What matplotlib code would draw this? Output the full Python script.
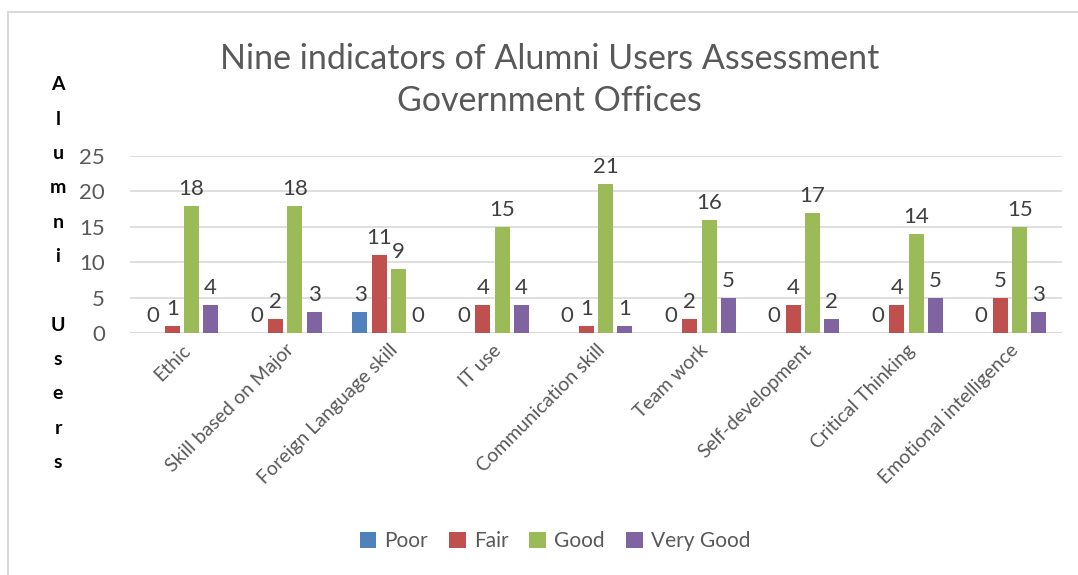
import numpy as np
import matplotlib.pyplot as plt
from matplotlib.patches import Rectangle

plt.rcParams['font.family'] = ['Lato', 'DejaVu Sans']

categories = ["Ethic", "Skill based on Major", "Foreign Language skill", "IT use",
              "Communication skill", "Team work", "Self-development",
              "Critical Thinking", "Emotional intelligence"]
poor = [0, 0, 3, 0, 0, 0, 0, 0, 0]
fair = [1, 2, 11, 4, 1, 2, 4, 4, 5]
good = [18, 18, 9, 15, 21, 16, 17, 14, 15]
very_good = [4, 3, 0, 4, 1, 5, 2, 5, 3]

series = [("Poor", poor, "#4F81BD"), ("Fair", fair, "#C0504D"),
          ("Good", good, "#9BBB59"), ("Very Good", very_good, "#8064A2")]

fig = plt.figure(figsize=(10.78, 5.75), dpi=100)
ax = fig.add_axes([0.1206, 0.4209, 0.8644, 0.3078])

# chart frame
fig.patches.append(Rectangle((8 / 1078, -0.01), 1.1, 1 - 12 / 575 + 0.01,
                             transform=fig.transFigure, fill=False,
                             edgecolor="#D9D9D9", lw=1.5))

x = np.arange(len(categories))
step, width = 0.186, 0.145
for i, (name, vals, col) in enumerate(series):
    pos = x + (i - 1.5) * step
    bars = ax.bar(pos, vals, width, color=col, label=name, zorder=3)
    for b, v in zip(bars, vals):
        ax.annotate(str(v), (b.get_x() + b.get_width() / 2, v),
                    xytext=(0, 5), textcoords="offset points",
                    ha="center", va="bottom", fontsize=16, color="#404040")

ax.set_xlim(-0.5, len(categories) - 0.5)
ax.set_ylim(0, 25)
ax.set_yticks(range(0, 26, 5))
ax.yaxis.grid(True, color="#D9D9D9", lw=1.2, zorder=0)
for s in ["top", "right", "left", "bottom"]:
    ax.spines[s].set_visible(False)
ax.axhline(0, color="#D9D9D9", lw=1.5, zorder=2)
ax.tick_params(axis="y", length=0, pad=18, labelsize=16, labelcolor="#595959")
ax.tick_params(axis="x", length=0, pad=6, labelsize=14, labelcolor="#595959")
ax.set_xticks(x)
ax.set_xticklabels(categories, rotation=45, ha="right", rotation_mode="anchor")

fig.text(0.51, 1 - 80 / 575, "Nine indicators of Alumni Users Assessment\nGovernment Offices",
         ha="center", va="center", fontsize=24.5, color="#595959", linespacing=1.36)

ylabel_letters = "Alumni Users"
ytop = 85
for k, ch in enumerate(ylabel_letters):
    if ch == " ":
        continue
    fig.text(58 / 1078, 1 - (ytop + k * 34.3) / 575, ch, ha="center", va="center",
             fontsize=14, fontweight="bold", color="black")

ax.legend(loc="center", bbox_to_anchor=(555 / 1078, 1 - 541 / 575),
          bbox_transform=fig.transFigure, ncol=4, frameon=False, fontsize=15,
          handlelength=0.8, handleheight=0.8, handletextpad=0.4, columnspacing=1.0,
          labelcolor="#595959")

fig.savefig("out.png", dpi=100)
